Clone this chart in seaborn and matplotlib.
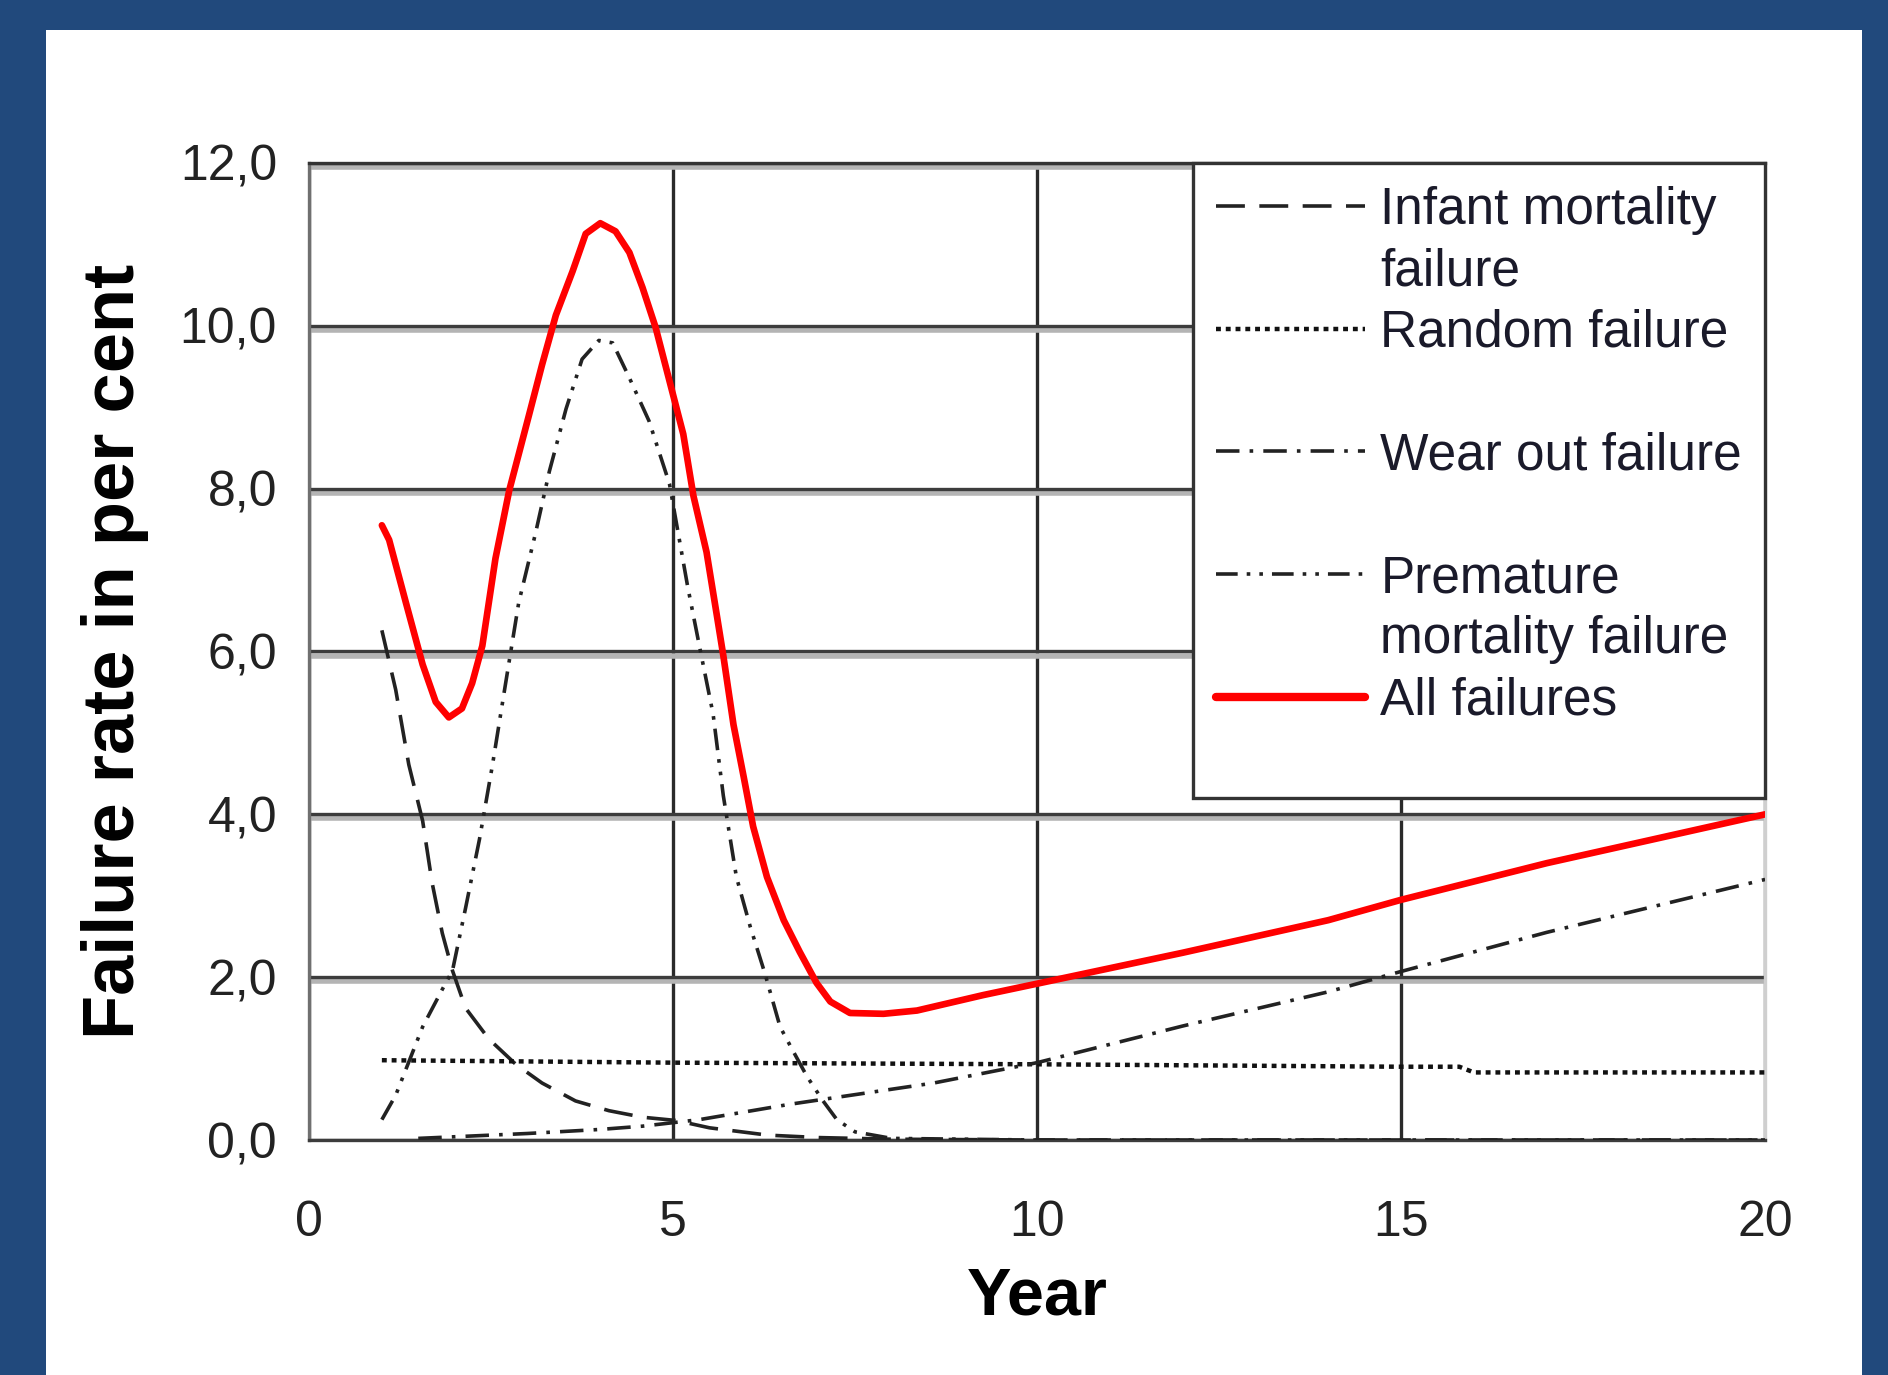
import numpy as np
import pandas as pd
import seaborn as sns
import matplotlib
matplotlib.use('Agg')
from matplotlib import pyplot as plt
from matplotlib import font_manager
from matplotlib import patheffects as pe
from matplotlib.lines import Line2D
from matplotlib.patches import Rectangle
from matplotlib.ticker import FuncFormatter

# values (x = year, y = failure rate in %)
infant_x = [1.0, 1.19, 1.37, 1.56, 1.69, 1.83, 1.97, 2.15, 2.47, 2.84, 3.2, 3.66, 4.12,
            4.58, 5.04, 5.5, 6.3, 7, 8, 10, 20]
infant_y = [6.26, 5.53, 4.61, 3.92, 3.16, 2.54, 2.08, 1.62, 1.24, 0.93, 0.7, 0.48, 0.36,
            0.28, 0.24, 0.15, 0.06, 0.03, 0.01, 0.0, 0.0]

random_x = [1, 5, 10, 15, 15.8, 16, 20]
random_y = [0.98, 0.95, 0.93, 0.9, 0.9, 0.83, 0.83]

wear_x = [1.5, 2, 3, 4, 4.58, 5.36, 6.61, 7.52, 8.58, 10, 12, 14, 15, 17, 20]
wear_y = [0.02, 0.04, 0.08, 0.13, 0.17, 0.25, 0.44, 0.56, 0.7, 0.95, 1.4, 1.82, 2.07, 2.55, 3.2]

premature_x = [1.0, 1.19, 1.56, 1.83, 1.97, 2.15, 2.34, 2.52, 2.7, 2.88, 3.11, 3.3, 3.53,
               3.75, 3.98, 4.17, 4.4, 4.67, 4.95, 5.2, 5.37, 5.55, 5.69, 5.87, 6.06, 6.26,
               6.47, 6.65, 6.84, 7.06, 7.25, 7.5, 8.0, 10, 20]
premature_y = [0.25, 0.55, 1.39, 1.85, 2.08, 2.85, 3.69, 4.61, 5.61, 6.6, 7.45, 8.21, 8.98,
               9.59, 9.82, 9.79, 9.36, 8.83, 8.06, 6.8, 6.03, 5.23, 4.23, 3.23, 2.62, 2.05,
               1.39, 1.09, 0.78, 0.48, 0.25, 0.1, 0.02, 0.0, 0.0]

all_x = [1.0, 1.1, 1.33, 1.56, 1.74, 1.92, 2.1, 2.24, 2.38, 2.56, 2.75, 3.02, 3.2, 3.39,
         3.62, 3.8, 4.0, 4.21, 4.4, 4.58, 4.76, 4.96, 5.14, 5.28, 5.46, 5.6, 5.69, 5.83,
         5.97, 6.1, 6.29, 6.52, 6.74, 6.97, 7.16, 7.43, 7.89, 8.35, 9.26, 10, 12, 14, 15,
         17, 20]
all_y = [7.55, 7.37, 6.6, 5.84, 5.38, 5.19, 5.3, 5.61, 6.07, 7.14, 7.98, 8.9, 9.52, 10.13,
         10.67, 11.13, 11.26, 11.16, 10.9, 10.47, 9.98, 9.29, 8.67, 7.91, 7.22, 6.45, 5.95,
         5.1, 4.46, 3.85, 3.23, 2.7, 2.31, 1.93, 1.7, 1.56, 1.55, 1.59, 1.78, 1.92, 2.3, 2.7,
         2.95, 3.4, 4.0]

x_ticks = [0, 5, 10, 15, 20]
y_ticks = [0, 2, 4, 6, 8, 10, 12]

sns.set_style('white')
installed = {f.name for f in font_manager.fontManager.ttflist}
narrow = 'Liberation Sans Narrow' if 'Liberation Sans Narrow' in installed else 'Liberation Sans'
plt.rcParams['font.family'] = [narrow, 'DejaVu Sans']

fig = plt.figure(figsize=(18.88, 13.75), dpi=100)
fig.patch.set_facecolor('#21497c')
fig.patches.append(Rectangle((0.0244, 0.0), 0.9618, 0.978, transform=fig.transFigure,
                             facecolor='white', edgecolor='none', zorder=-10))

ax = fig.add_axes([0.1637, 0.1709, 0.7712, 0.7106])
ax.set_zorder(5)
ax.set_facecolor('white')

lw = 2.6
series = [
    ('Infant mortality failure', infant_x, infant_y, '#222222', (0, (8, 4)), lw),
    ('Random failure', random_x, random_y, '#111111', (0, (1.1, 1.1)), 3.2),
    ('Wear out failure', wear_x, wear_y, '#222222', (0, (6.5, 2.8, 1, 2.8)), lw),
    ('Premature mortality failure', premature_x, premature_y, '#222222',
     (0, (6, 2.5, 1, 2.5, 1, 2.5)), lw),
    ('All failures', all_x, all_y, '#ff0000', '-', 4.8),
]

handles = []
for name, xs, ys, col, ls, w in series:
    df = pd.DataFrame({'Year': xs, 'rate': ys})
    sns.lineplot(data=df, x='Year', y='rate', ax=ax, color=col, linestyle=ls,
                 linewidth=w, sort=False, estimator=None, label=name, zorder=3)
    handles.append(ax.lines[-1])

ax.set_xlim(0, 20)
ax.set_ylim(0, 12)
ax.set_xticks(x_ticks)
ax.set_yticks(y_ticks)
ax.yaxis.set_major_formatter(FuncFormatter(lambda v, p: f'{v:.1f}'.replace('.', ',')))

# grid: dark line with a light grey shadow beneath (horizontal), plain dark vertical
ax.set_axisbelow(True)
ax.grid(True, axis='y', color='#3c3c3c', linewidth=2.4,
        path_effects=[pe.SimpleLineShadow(offset=(0, -3), shadow_color='#b4b4b4', alpha=1,
                                          linewidth=4), pe.Normal()])
ax.grid(True, axis='x', color='#2a2a2a', linewidth=2.4)

for side in ['left', 'right', 'top', 'bottom']:
    ax.spines[side].set_visible(True)
    ax.spines[side].set_linewidth(2.4)
ax.spines['left'].set_color('#707070')
ax.spines['top'].set_color('#333333')
ax.spines['right'].set_color('#cfcfcf')
ax.spines['bottom'].set_color('#3c3c3c')

ax.tick_params(axis='both', which='major', direction='out', length=13, width=2.4,
               color='#444444', labelsize=36, labelcolor='#222222')
ax.tick_params(axis='x', pad=30)
ax.tick_params(axis='y', pad=10)

ax.set_xlabel('Year', fontsize=48, fontweight='bold', family=['Liberation Sans', 'DejaVu Sans'],
              labelpad=15, color='black')
ax.set_ylabel('Failure rate in per cent', fontsize=52, fontweight='bold',
              family=['Liberation Sans', 'DejaVu Sans'], labelpad=22, color='black')

# legend rows laid out like the original (wrapped labels, empty rows)
blank = Line2D([], [], linestyle='none')
leg_handles = [handles[0], blank, handles[1], blank, handles[2], blank,
               handles[3], blank, handles[4], blank]
leg_labels = ['Infant mortality', 'failure', 'Random failure', '', 'Wear out failure', '',
              'Premature', 'mortality failure', 'All failures', '']
leg = ax.legend(leg_handles, leg_labels, loc='upper right', bbox_to_anchor=(1, 1),
                borderaxespad=0, fontsize=37, frameon=True, fancybox=False, framealpha=1,
                edgecolor='#333333', handlelength=2.9, handletextpad=0.3,
                labelspacing=0.24, borderpad=0.45)
leg.get_frame().set_linewidth(2.4)
leg.legend_handles[8].set_linewidth(6)
leg.get_texts()[-1].set_fontsize(3)
for t in leg.get_texts():
    t.set_color('#1a1a2a')

fig.savefig('out.png', dpi=100, facecolor=fig.get_facecolor())
